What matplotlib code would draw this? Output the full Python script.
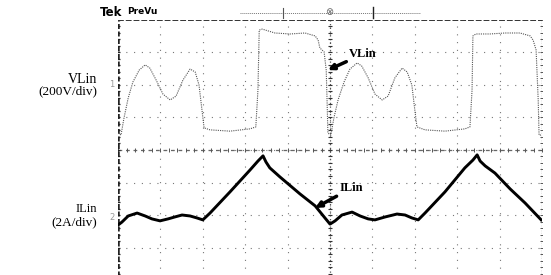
import numpy as np
import matplotlib.pyplot as plt

# screen values in divisions (10 x 8 graticule, centre = 0,0)
v_t = [0.00, 0.07, 0.14, 0.24, 0.35, 0.50, 0.64, 0.75, 0.90, 1.06, 1.23, 1.37, 1.53, 1.70,
       1.82, 1.91, 1.98, 2.03, 2.17, 2.64, 3.11, 3.25, 3.30, 3.33, 3.40, 3.70, 4.06, 4.41,
       4.65, 4.72, 4.76, 4.86, 4.91, 4.93, 4.95, 5.02, 5.09, 5.19, 5.33, 5.47, 5.64, 5.75,
       5.90, 6.06, 6.23, 6.37, 6.53, 6.70, 6.82, 6.93, 7.00, 7.05, 7.24, 7.71, 8.18, 8.30,
       8.35, 8.37, 8.44, 8.77, 9.13, 9.48, 9.72, 9.79, 9.86, 9.91, 9.93, 10.00]
v_lin = [0.52, 0.46, 0.98, 1.60, 2.09, 2.46, 2.62, 2.52, 2.15, 1.72, 1.54, 1.66, 2.15, 2.49,
         2.40, 2.00, 1.23, 0.68, 0.62, 0.58, 0.65, 0.71, 1.85, 3.69, 3.72, 3.60, 3.57, 3.60,
         3.51, 3.38, 3.14, 3.02, 2.46, 1.54, 0.52, 0.46, 0.98, 1.54, 2.09, 2.49, 2.68, 2.58,
         2.22, 1.72, 1.54, 1.66, 2.22, 2.52, 2.40, 2.00, 1.23, 0.71, 0.62, 0.58, 0.65, 0.71,
         1.85, 3.51, 3.57, 3.57, 3.60, 3.60, 3.51, 3.38, 3.08, 1.54, 0.46, 0.46]

i_t = [0.00, 0.09, 0.24, 0.45, 0.64, 0.80, 0.99, 1.18, 1.34, 1.51, 1.70, 1.86, 2.00, 2.17,
       2.64, 3.11, 3.30, 3.42, 3.49, 3.58, 3.82, 4.29, 4.65, 4.88, 5.00, 5.12, 5.28, 5.52,
       5.71, 5.90, 6.06, 6.30, 6.58, 6.77, 6.93, 7.08, 7.24, 7.71, 8.18, 8.37, 8.47, 8.54,
       8.66, 8.89, 9.25, 9.60, 9.98]
i_lin = [-2.31, -2.22, -2.03, -1.94, -2.03, -2.12, -2.18, -2.12, -2.06, -2.00, -2.03, -2.09,
         -2.15, -1.94, -1.29, -0.62, -0.34, -0.18, -0.37, -0.55, -0.83, -1.35, -1.72, -2.09,
         -2.28, -2.18, -2.00, -1.91, -2.03, -2.12, -2.15, -2.06, -1.97, -2.00, -2.09, -2.15,
         -1.94, -1.29, -0.55, -0.31, -0.15, -0.34, -0.49, -0.71, -1.20, -1.63, -2.15]

ch1_level = 2.0
ch2_level = -2.09

fig = plt.figure(figsize=(5.51, 2.75), dpi=100)
fig.set_facecolor('white')
ax = fig.add_axes([0.2142, -0.0182, 0.7695, 0.9455])
ax.set_xlim(0, 10)
ax.set_ylim(-4, 4)
ax.axis('off')

# graticule
dot = (0, (1, 6))
for x in range(1, 10):
    ax.plot([x, x], [-4, 4], color='#777777', lw=0.8, ls=dot)
for y in range(-3, 4):
    ax.plot([0, 10], [y, y], color='#777777', lw=0.8, ls=dot)
ax.plot([0, 10], [0, 0], color='#666666', lw=0.9, ls=(0, (3, 3)))
ax.plot([5, 5], [-4, 4], color='#555555', lw=0.9, ls=(0, (1, 2)))
tx = np.arange(0, 10.01, 0.2)
ty = np.arange(-4, 4.01, 0.2)
ax.plot(tx, np.zeros_like(tx), ls='none', marker='|', ms=3, color='#555555', mew=0.7)
ax.plot(np.full_like(ty, 5), ty, ls='none', marker='_', ms=3, color='#333333', mew=0.8)
# borders
ax.plot([0, 0], [-4, 4], color='#222222', lw=1.8, ls=(0, (2, 1)))
ax.plot(np.zeros_like(ty), ty, ls='none', marker='_', ms=3.5, color='#222222', mew=0.9)
ax.plot([10, 10], [-4, 4], color='#555555', lw=0.9, ls=(0, (1, 1)))
ax.plot(np.full_like(ty, 10), ty, ls='none', marker='_', ms=3, color='#555555', mew=0.7)
ax.plot([0, 10], [4, 4], color='#333333', lw=1.4, ls=(0, (3, 1)))

# traces
ax.plot(v_t, v_lin, color='#555555', lw=0.8, ls=(0, (1, 1)))
ax.plot(i_t, i_lin, color='black', lw=2.1)

# channel markers
ax.text(-0.08, ch1_level, '1', color='#999999', fontsize=6, ha='right', va='center')
ax.text(-0.08, ch2_level, '2', color='#999999', fontsize=6, ha='right', va='center')

# annotations
ax.annotate('VLin', xy=(4.95, 2.46), xytext=(5.45, 2.95), fontsize=9, fontweight='bold',
            family='Liberation Serif', va='center', ha='left',
            arrowprops=dict(arrowstyle='-|>', color='black', lw=2.5, mutation_scale=8,
                            shrinkA=0, shrinkB=0))
ax.annotate('ILin', xy=(4.65, -1.78), xytext=(5.22, -1.18), fontsize=9, fontweight='bold',
            family='Liberation Serif', va='center', ha='left',
            arrowprops=dict(arrowstyle='-|>', color='black', lw=2.5, mutation_scale=8,
                            shrinkA=0, shrinkB=0))

# left labels
fig.text(97 / 551, 1 - 79 / 275, 'VLin', fontsize=10, family='Liberation Serif',
         ha='right', va='center')
fig.text(97 / 551, 1 - 91 / 275, '(200V/div)', fontsize=9.5, family='Liberation Serif',
         ha='right', va='center')
fig.text(97 / 551, 1 - 209 / 275, 'ILin', fontsize=9, family='Liberation Serif',
         ha='right', va='center')
fig.text(97 / 551, 1 - 222 / 275, '(2A/div)', fontsize=9.5, family='Liberation Serif',
         ha='right', va='center')

# header
fig.text(100 / 551, 1 - 13 / 275, 'Tek', fontsize=8.5, fontweight='bold', ha='left', va='center')
fig.text(127 / 551, 1 - 12 / 275, 'PreVu', fontsize=6.5, fontweight='bold', ha='left', va='center')
fig.add_artist(plt.Line2D([240 / 551, 420 / 551], [1 - 13 / 275] * 2, color='#777777',
                          lw=0.7, ls=(0, (1, 1))))
fig.add_artist(plt.Line2D([283 / 551] * 2, [1 - 8 / 275, 1 - 18 / 275], color='#555555', lw=0.8))
fig.add_artist(plt.Line2D([373 / 551] * 2, [1 - 7 / 275, 1 - 18 / 275], color='#222222', lw=1.0))
fig.text(329 / 551, 1 - 12 / 275, '\u2297', fontsize=7, color='#666666', ha='center', va='center')

fig.savefig('out.png', dpi=100, facecolor='white')
